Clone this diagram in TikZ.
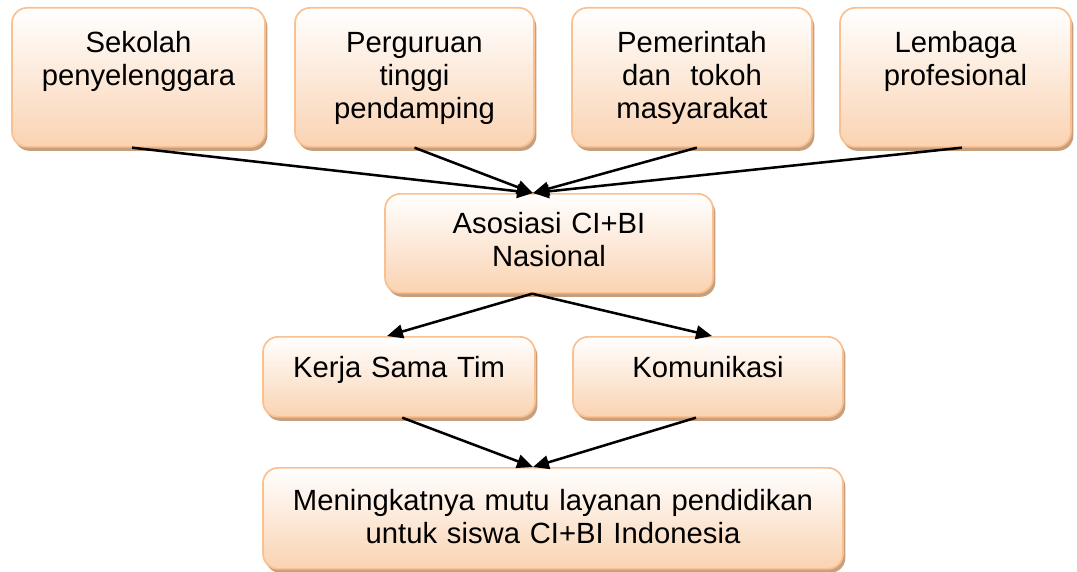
\documentclass[tikz,border=0pt]{standalone}
\usepackage{fontspec}
\setmainfont{Liberation Sans}
\usepackage{tikz}
\usetikzlibrary{arrows.meta, shadows, calc}

\definecolor{peachline}{RGB}{250,192,144}
\definecolor{peachfill}{RGB}{250,211,178}
\definecolor{shadowtan}{RGB}{198,160,126}

\begin{document}
\begin{tikzpicture}[
    box/.style={draw=peachline, line width=1.2pt, rounded corners=0.38cm,
                top color=white, bottom color=peachfill,
                drop shadow={shadow xshift=0.06cm, shadow yshift=-0.1cm,
                             fill=shadowtan, opacity=1},
                align=center, inner xsep=0pt, inner ysep=0pt, anchor=north,
                font=\fontsize{20.8}{23.5}\selectfont},
    topbox/.style={box, text height=1.125cm, text depth=2.35cm},
    link/.style={line width=1.8pt, -{Triangle[length=0.4cm,width=0.34cm]}}]
  \useasboundingbox (0,0) rectangle (26.925,14.275);
  % pihak pendukung
  \node[topbox, text width=6.325cm] (sekolah) at (3.4625,14.1) {Sekolah\\penyelenggara};
  \node[topbox, text width=5.975cm] (perguruan) at (10.3625,14.1) {Perguruan\\tinggi\\pendamping};
  \node[topbox, text width=6.0cm] (pemerintah) at (17.3,14.1) {Pemerintah\\dan\ \ tokoh\\masyarakat};
  \node[topbox, text width=5.775cm] (lembaga) at (23.8875,14.1) {Lembaga\\profesional};
  % asosiasi
  \node[box, text width=8.2cm, text height=1.0cm, text depth=1.475cm]
        (asosiasi) at (13.725,9.45) {Asosiasi CI+BI\\Nasional};
  % kerja sama dan komunikasi
  \node[box, text width=6.8cm, text height=1.025cm, text depth=0.975cm]
        (kerja) at (9.975,5.875) {Kerja Sama Tim};
  \node[box, text width=6.75cm, text height=1.025cm, text depth=0.975cm]
        (komunikasi) at (17.7,5.875) {Komunikasi};
  % hasil
  \node[box, text width=14.5cm, text height=1.075cm, text depth=1.45cm]
        (hasil) at (13.825,2.6) {Meningkatnya mutu layanan pendidikan\\untuk siswa CI+BI Indonesia};

  \foreach \src/\dx in {sekolah/-0.16, perguruan/0, pemerintah/0.12, lembaga/0.16}
    \draw[link] ([xshift=\dx cm]\src.south) -- ([xshift=-0.4cm]asosiasi.north);
  \draw[link] ([xshift=-0.42cm]asosiasi.south) -- ([xshift=-0.3cm]kerja.north);
  \draw[link] ([xshift=-0.42cm]asosiasi.south) -- ([xshift=0.1cm]komunikasi.north);
  \draw[link] ([xshift=0.08cm]kerja.south) -- ([xshift=-0.5cm]hasil.north);
  \draw[link] ([xshift=-0.3cm]komunikasi.south) -- ([xshift=-0.5cm]hasil.north);
\end{tikzpicture}
\end{document}
